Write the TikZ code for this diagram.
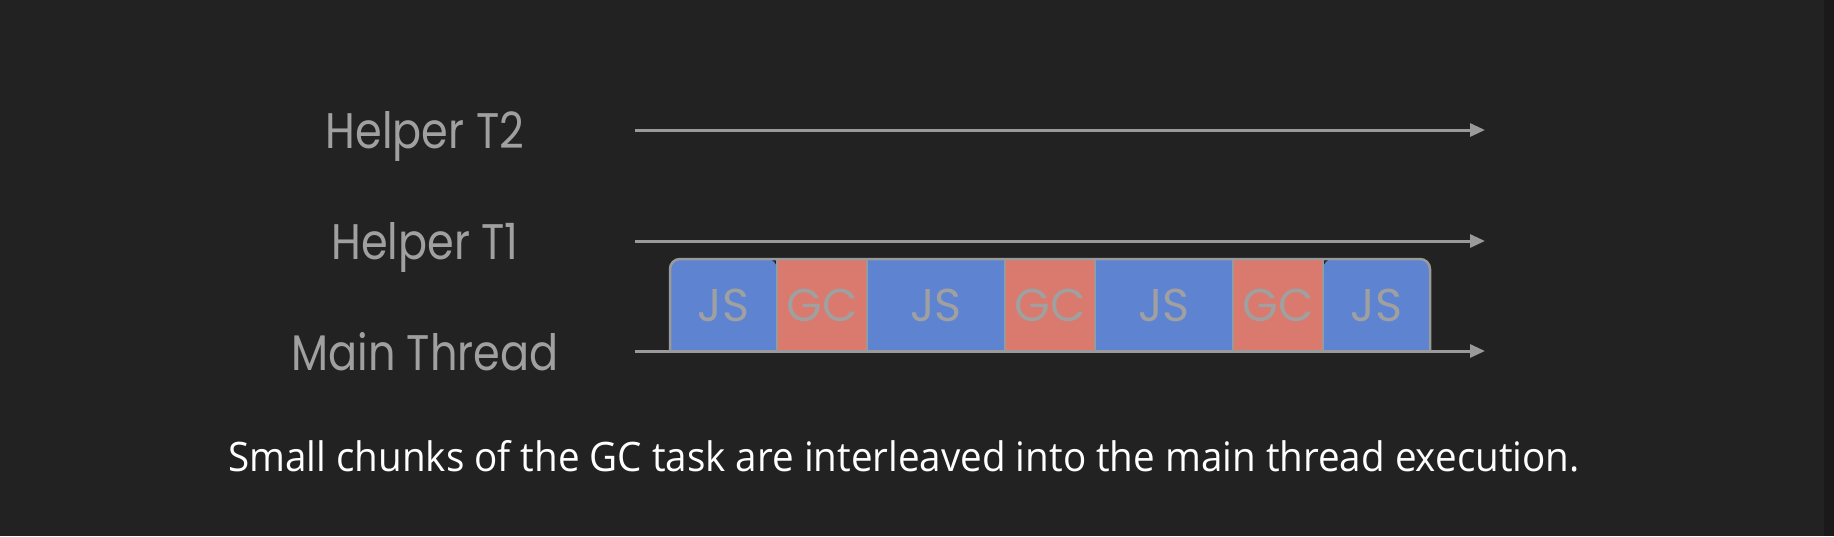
\documentclass[tikz,border=0pt]{standalone}
\usepackage{fontspec}
\setmainfont[FakeStretch=0.86]{Poppins}
\newfontfamily\chunkfont{Poppins}
\newfontfamily\capfont[FakeStretch=0.95]{Open Sans}
\usetikzlibrary{arrows.meta,positioning}

\definecolor{bgdark}{HTML}{222222}
\definecolor{edgedark}{HTML}{1A1A1A}
\definecolor{lanegray}{HTML}{9A9A9A}
\definecolor{textgray}{HTML}{A0A0A0}
\definecolor{jsblue}{HTML}{5E83D0}
\definecolor{gcred}{HTML}{DA796D}

\tikzset{
  lane/.style={draw=lanegray,line width=3pt},
  lanearrow/.style={lane,-{Triangle[length=15pt,width=13pt]}},
  thread/.style={text=textgray,anchor=base,font=\fontsize{50}{60}\selectfont},
  chunk/.style={inner sep=0pt,outer sep=0pt,minimum height=92pt},
  chunktext/.style={text=textgray,font=\chunkfont\fontsize{46}{55}\selectfont},
}

\begin{document}
\begin{tikzpicture}[x=1pt,y=-1pt]
  \fill[bgdark] (0,0) rectangle (1834,536);
  \fill[edgedark] (1824,0) rectangle (1834,536);
  \useasboundingbox (0,0) rectangle (1834,536);

  % thread names
  \node[thread] (t2) at (425,148) {Helper T2};
  \node[thread] (t1) at (425,259) {Helper T1};
  \node[thread] (tm) at (425,370) {Main Thread};

  % lanes
  \coordinate (t2a) at (635,130);
  \coordinate (t2b) at (1485,130);
  \coordinate (t1a) at (635,241);
  \coordinate (t1b) at (1485,241);
  \coordinate (tma) at (635,351);
  \coordinate (tmb) at (1485,351);

  % chunks on the main thread
  \node[chunk,minimum width=107pt,anchor=south west] (c1) at (670,351) {};
  \node[chunk,minimum width=90pt,right=0pt of c1] (c2) {};
  \node[chunk,minimum width=138pt,right=0pt of c2] (c3) {};
  \node[chunk,minimum width=90pt,right=0pt of c3] (c4) {};
  \node[chunk,minimum width=138pt,right=0pt of c4] (c5) {};
  \node[chunk,minimum width=90pt,right=0pt of c5] (c6) {};
  \node[chunk,minimum width=107pt,right=0pt of c6] (c7) {};

  \fill[jsblue,rounded corners=10pt] (c1.south west) |- (c1.north east)
    [sharp corners] -- (c1.south east) -- cycle;
  \foreach \c/\col in {c2/gcred,c3/jsblue,c4/gcred,c5/jsblue,c6/gcred}
    \fill[\col] (\c.south west) rectangle (\c.north east);
  \fill[jsblue,rounded corners=10pt] (c7.south east) |- (c7.north west)
    [sharp corners] -- (c7.south west) -- cycle;

  \draw[lane,line width=2.5pt,rounded corners=10pt] (c1.south west) |- (c7.north) -| (c7.south east);
  \foreach \c in {c1,c2,c3,c4,c5,c6}
    \draw[lane,line width=2.5pt] (\c.north east) -- (\c.south east);

  \foreach \c/\txt in {c1/JS,c2/GC,c3/JS,c4/GC,c5/JS,c6/GC,c7/JS}
    \node[chunktext] at (\c) {\txt};

  \draw[lanearrow] (t2a) -- (t2b);
  \draw[lanearrow] (t1a) -- (t1b);
  \draw[lanearrow] (tma) -- (tmb);

  % caption
  \node[text=white,anchor=base,font=\capfont\fontsize{40.6}{48}\selectfont] (cap) at (904,471)
    {Small chunks of the GC task are interleaved into the main thread execution.};
\end{tikzpicture}
\end{document}
